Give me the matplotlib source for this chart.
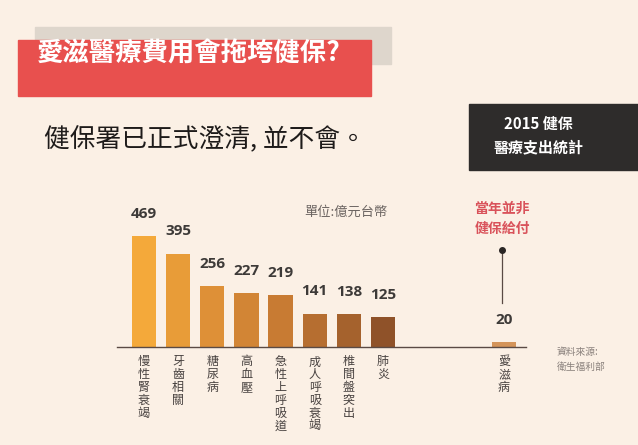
import matplotlib.pyplot as plt
import matplotlib.patches as mpatches

plt.rcParams['font.family'] = ['Noto Sans CJK TC', 'DejaVu Sans']

# 資料
categories = ["慢性腎衰竭", "牙齒相關", "糖尿病", "高血壓", "急性上呼吸道",
              "成人呼吸衰竭", "椎間盤突出", "肺炎"]
values = [469, 395, 256, 227, 219, 141, 138, 125]
bar_colors = ["#F4A93A", "#E89C38", "#DE9037", "#D28535", "#C87B33",
              "#B66E30", "#A5622D", "#8F5229"]
aids_label = "愛滋病"
aids_value = 20
aids_color = "#D49459"

W, H = 638, 445
bg = "#FBF0E5"

fig = plt.figure(figsize=(W / 100, H / 100), dpi=100, facecolor=bg)


def px(x, y):
    # 像素座標(左上為原點) -> figure 座標
    return x / W, 1 - y / H


# 標題底色
fig.patches.append(mpatches.Rectangle(px(35, 64), 356 / W, 37 / H,
                                      transform=fig.transFigure,
                                      color="#DED6CC", zorder=0))
fig.patches.append(mpatches.Rectangle(px(18, 96), 353 / W, 56 / H,
                                      transform=fig.transFigure,
                                      color="#E8504E", zorder=1))
fig.text(*px(37, 54), "愛滋醫療費用會拖垮健保?", color="white",
         fontsize=19, fontweight="bold", va="center", ha="left", zorder=2)

fig.text(*px(44, 140), "健保署已正式澄清, 並不會。", color="#1E1B1A",
         fontsize=18.5, fontweight="medium", va="center", ha="left")

# 右上黑框
fig.patches.append(mpatches.Rectangle(px(469, 170), (W - 469) / W, 66 / H,
                                      transform=fig.transFigure,
                                      color="#2E2C2B", zorder=1))
fig.text(*px(538, 124), "2015 健保", color="white", fontsize=10.8,
         fontweight="bold", ha="center", va="center", zorder=2)
fig.text(*px(538, 147), "醫療支出統計", color="white", fontsize=10.8,
         fontweight="bold", ha="center", va="center", zorder=2)

# 長條圖
step = 34.14
xmin, xmax = -0.8, 11.2
ax = fig.add_axes([(144 + xmin * step) / W, 98 / H,
                   (xmax - xmin) * step / W, 500 * 0.2367 / H])
ax.set_facecolor("none")
ax.set_xlim(xmin, xmax)
ax.set_ylim(0, 500)

positions = list(range(len(categories)))
aids_pos = 10.55
ax.bar(positions, values, width=0.71, color=bar_colors, zorder=2)
ax.bar([aids_pos], [aids_value], width=0.71, color=aids_color, zorder=2)

for p, v in zip(positions + [aids_pos], values + [aids_value]):
    ax.annotate(str(v), (p, v), xytext=(0, 11), textcoords="offset points",
                ha="center", va="bottom", fontsize=11, fontweight="bold",
                color="#3D3A38", family=["Open Sans", "DejaVu Sans"])

for p, name in zip(positions + [aids_pos], categories + [aids_label]):
    ax.annotate("\n".join(name), (p, 0), xytext=(0, -6),
                textcoords="offset points", ha="center", va="top",
                fontsize=8.7, color="#4A4442", linespacing=0.98)

for s in ["top", "right", "left"]:
    ax.spines[s].set_visible(False)
ax.spines["bottom"].set_color("#5A4A44")
ax.spines["bottom"].set_linewidth(1)
ax.set_xticks([])
ax.set_yticks([])

# 指示線
ax.plot([aids_pos - 0.06, aids_pos - 0.06], [186, 410], color="#5A4A44",
        lw=0.9, zorder=1)
ax.plot([aids_pos - 0.06], [410], "o", color="#2A2524", ms=4, zorder=3)

fig.text(*px(502, 209), "當年並非", color="#D9525A", fontsize=10,
         fontweight="bold", ha="center", va="center")
fig.text(*px(502, 229), "健保給付", color="#D9525A", fontsize=10,
         fontweight="bold", ha="center", va="center")

fig.text(*px(304, 212), "單位:億元台幣", color="#6B6461", fontsize=9.5,
         ha="left", va="center")
fig.text(*px(557, 352), "資料來源:", color="#8A817C", fontsize=7,
         ha="left", va="center")
fig.text(*px(557, 367), "衛生福利部", color="#8A817C", fontsize=7,
         ha="left", va="center")

fig.savefig("out.png", dpi=100, facecolor=bg)
